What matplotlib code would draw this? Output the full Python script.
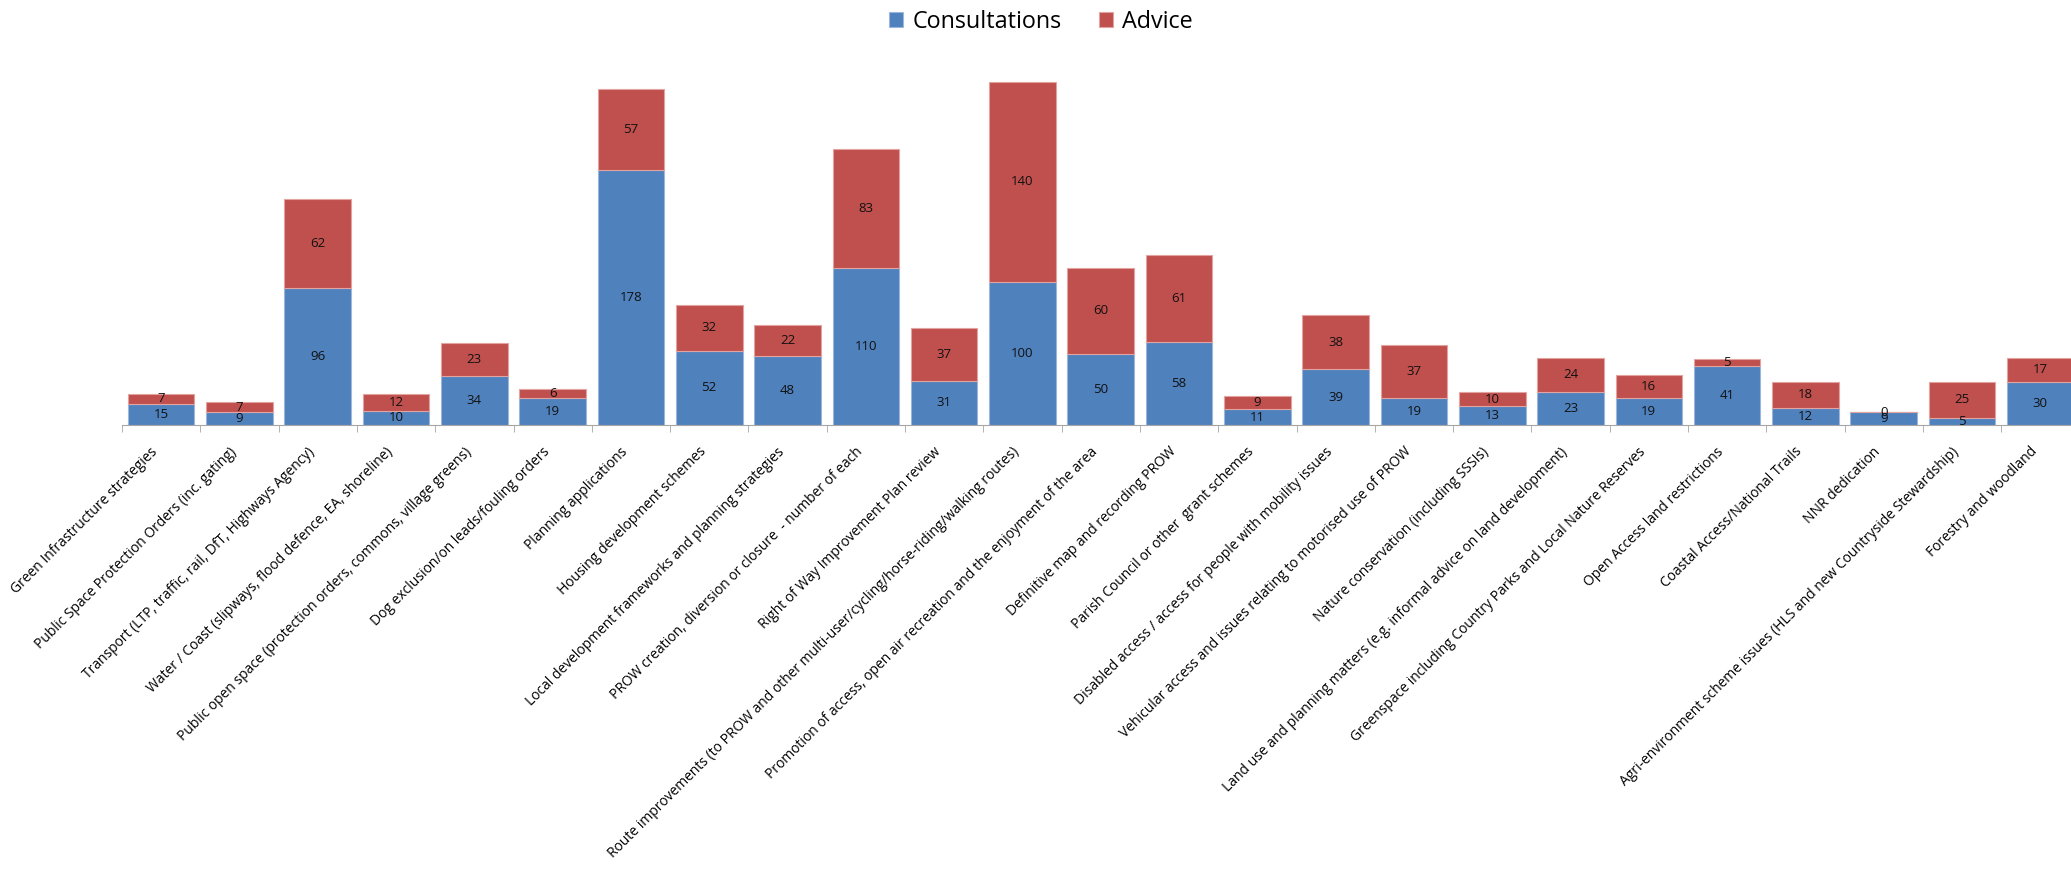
import numpy as np
import matplotlib
matplotlib.use("Agg")
import matplotlib.pyplot as plt

plt.rcParams["font.family"] = ["Open Sans", "DejaVu Sans"]

categories = [
    "Green Infrastructure strategies",
    "Public Space Protection Orders (inc. gating)",
    "Transport (LTP, traffic, rail, DfT, Highways Agency)",
    "Water / Coast (slipways, flood defence, EA, shoreline)",
    "Public open space (protection orders, commons, village greens)",
    "Dog exclusion/on leads/fouling orders",
    "Planning applications",
    "Housing development schemes",
    "Local development frameworks and planning strategies",
    "PROW creation, diversion or closure  - number of each",
    "Right of Way Improvement Plan review",
    "Route improvements (to PROW and other multi-user/cycling/horse-riding/walking routes)",
    "Promotion of access, open air recreation and the enjoyment of the area",
    "Definitive map and recording PROW",
    "Parish Council or other  grant schemes",
    "Disabled access / access for people with mobility issues",
    "Vehicular access and issues relating to motorised use of PROW",
    "Nature conservation (including SSSIs)",
    "Land use and planning matters (e.g. informal advice on land development)",
    "Greenspace including Country Parks and Local Nature Reserves",
    "Open Access land restrictions",
    "Coastal Access/National Trails",
    "NNR dedication",
    "Agri-environment scheme issues (HLS and new Countryside Stewardship)",
    "Forestry and woodland",
]
consultations = [15, 9, 96, 10, 34, 19, 178, 52, 48, 110, 31, 100, 50, 58, 11, 39, 19, 13, 23, 19, 41, 12, 9, 5, 30]
advice = [7, 7, 62, 12, 23, 6, 57, 32, 22, 83, 37, 140, 60, 61, 9, 38, 37, 10, 24, 16, 5, 18, 0, 25, 17]

W, H = 2071, 869
fig = plt.figure(figsize=(W / 100, H / 100), dpi=100)
left, base, step = 122, 425, 78.3
ymax = 250
ax = fig.add_axes([left / W, 1 - base / H, 25 * step / W, ymax * 1.43 / H])

x = np.arange(len(categories))
b1 = ax.bar(x, consultations, width=0.85, color="#4F81BD", edgecolor="#9DB7DC",
            linewidth=0.8, label="Consultations")
b2 = ax.bar(x, advice, width=0.85, bottom=consultations, color="#C0504D",
            edgecolor="#E3A3A1", linewidth=0.8, label="Advice")
ax.bar_label(b1, label_type="center", fontsize=9.5, color="#111111")
ax.bar_label(b2, label_type="center", fontsize=9.5, color="#111111")

ax.set_xlim(-0.5, len(categories) - 0.5)
ax.set_ylim(0, ymax)
ax.set_yticks([])
for s in ["top", "right", "left"]:
    ax.spines[s].set_visible(False)
ax.spines["bottom"].set_color("#A6A6A6")

ax.set_xticks(x)
ax.set_xticklabels(categories, rotation=45, ha="right", va="top", fontsize=10)
ax.tick_params(axis="x", which="major", length=0, pad=14)
ax.set_xticks(np.arange(-0.5, len(categories), 1), minor=True)
ax.tick_params(axis="x", which="minor", length=5, color="#A6A6A6")

fig.legend(handles=[b1, b2], loc="center", bbox_to_anchor=(1041 / W, 1 - 22 / H),
           ncol=2, frameon=False, fontsize=16.8, handlelength=0.6, handleheight=0.6,
           handletextpad=0.4, columnspacing=1.6)

fig.savefig("out.png", dpi=100)
